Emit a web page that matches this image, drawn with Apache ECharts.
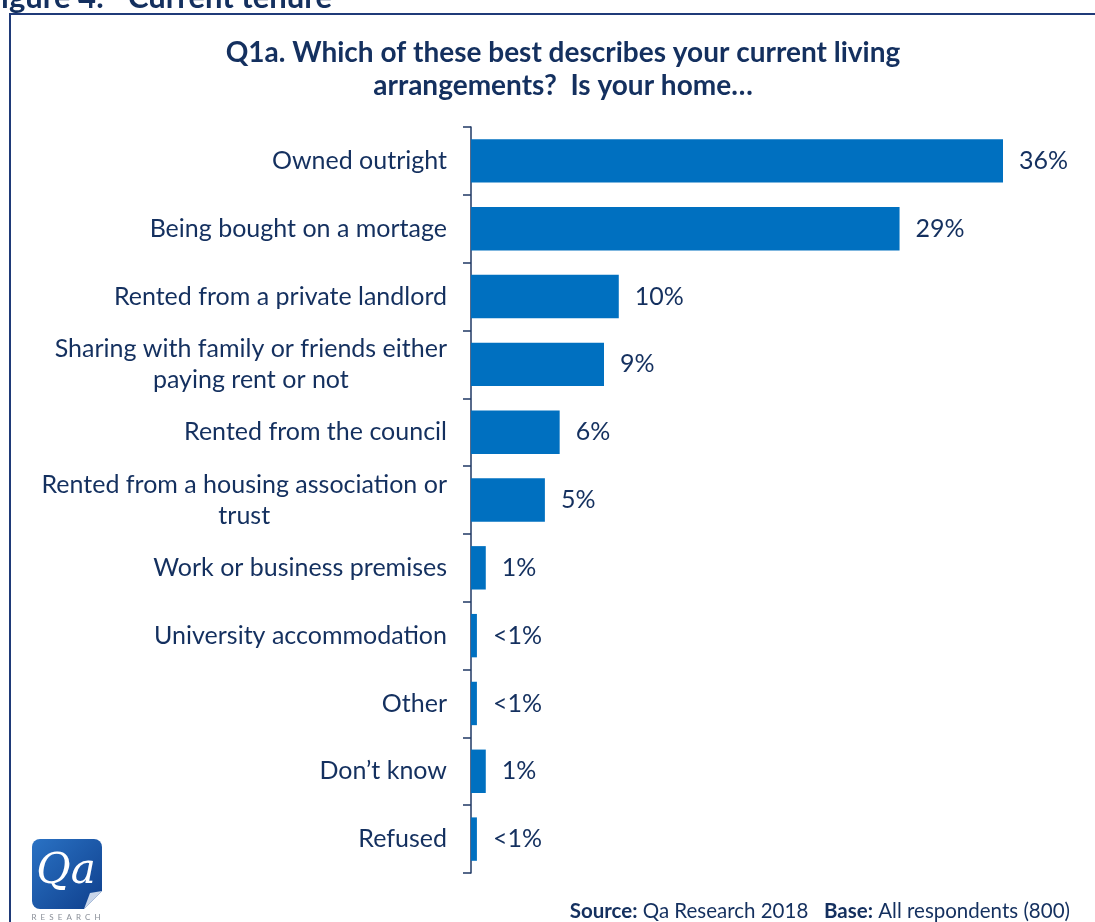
<!DOCTYPE html>
<html>
<head>
<meta charset="utf-8">
<title>Current tenure</title>
<script src="https://cdn.jsdelivr.net/npm/echarts@6/dist/echarts.min.js"></script>
<style>
  html, body { margin: 0; padding: 0; background: #ffffff; }
  #chart { width: 1095px; height: 922px; }
</style>
</head>
<body>
<div id="chart"></div>
<script>
// Survey answers, top to bottom
const categories = [
  'Owned outright',
  'Being bought on a mortage',
  'Rented from a private landlord',
  'Sharing with family or friends either\npaying rent or not',
  'Rented from the council',
  'Rented from a housing association or\ntrust',
  'Work or business premises',
  'University accommodation',
  'Other',
  'Don\u2019t know',
  'Refused'
];
// Share of respondents (%); "<1%" answers drawn as small values
const values = [36, 29, 10, 9, 6, 5, 1, 0.4, 0.4, 1, 0.4];
const valueLabels = ['36%', '29%', '10%', '9%', '6%', '5%', '1%', '<1%', '<1%', '1%', '<1%'];

const NAVY = '#14305f';
const BAR = '#0070c0';
const FONT = 'Lato, "Open Sans", sans-serif';

const chart = echarts.init(document.getElementById('chart'), null, { renderer: 'canvas' });

chart.setOption({
  animation: false,
  backgroundColor: '#ffffff',
  title: {
    text: 'Q1a. Which of these best describes your current living\narrangements?  Is your home\u2026',
    left: 558,
    textAlign: 'center',
    top: 31,
    padding: 5,
    textStyle: {
      fontFamily: FONT,
      fontWeight: 'bold',
      fontSize: 28,
      lineHeight: 33,
      color: NAVY
    }
  },
  grid: { left: 471, right: 92, top: 127, bottom: 49, containLabel: false },
  xAxis: {
    type: 'value',
    min: 0,
    max: 36,
    show: false
  },
  yAxis: {
    type: 'category',
    data: categories,
    inverse: true,
    axisLine: { show: true, lineStyle: { color: '#1f3864', width: 1.5 } },
    axisTick: { show: true, length: 8, lineStyle: { color: '#1f3864', width: 1.5 } },
    axisLabel: {
      margin: 24,
      color: NAVY,
      fontFamily: FONT,
      fontSize: 25,
      lineHeight: 31,
      formatter: function (v) {
        return v.split('\n').map(function (l) { return '{c|' + l + '}'; }).join('\n');
      },
      rich: {
        c: { align: 'center', color: NAVY, fontFamily: FONT, fontSize: 25, lineHeight: 31 }
      }
    },
    splitLine: { show: false }
  },
  series: [{
    type: 'bar',
    data: values,
    barCategoryGap: '36%',
    itemStyle: { color: BAR },
    label: {
      show: true,
      position: 'right',
      distance: 16,
      color: NAVY,
      fontFamily: FONT,
      fontSize: 25,
      formatter: function (p) { return valueLabels[p.dataIndex]; }
    }
  }],
  graphic: [
    // frame around the figure
    {
      type: 'rect',
      shape: { x: 10, y: 14, width: 1100, height: 930 },
      style: { fill: 'none', stroke: '#1f3a78', lineWidth: 2 },
      silent: true
    },
    // figure caption above the frame
    {
      type: 'text',
      x: 104, y: 13,
      style: {
        text: 'Figure 4:',
        align: 'right', verticalAlign: 'bottom',
        fontFamily: FONT, fontWeight: 'bold', fontSize: 31, fill: NAVY
      }
    },
    {
      type: 'text',
      x: 128, y: 13,
      style: {
        text: 'Current tenure',
        align: 'left', verticalAlign: 'bottom',
        fontFamily: FONT, fontWeight: 'bold', fontSize: 31, fill: NAVY
      }
    },
    // Qa Research logo
    {
      type: 'rect',
      shape: { x: 32, y: 839, width: 70, height: 70, r: 8 },
      style: {
        fill: new echarts.graphic.LinearGradient(0, 0, 1, 1, [
          { offset: 0, color: '#2a72c4' },
          { offset: 1, color: '#0f3f8c' }
        ])
      },
      silent: true
    },
    {
      type: 'polygon',
      shape: { points: [[84, 909], [102, 891], [102, 909]] },
      style: { fill: '#ffffff' },
      silent: true
    },
    {
      type: 'polygon',
      shape: { points: [[84, 909], [102, 891], [90, 893]] },
      style: { fill: '#c9d6ea' },
      silent: true
    },
    {
      type: 'text',
      x: 66, y: 872,
      style: {
        text: 'Qa',
        align: 'center', verticalAlign: 'middle',
        fontFamily: '"DejaVu Serif", "Liberation Serif", serif',
        fontStyle: 'italic', fontSize: 42, fill: '#ffffff'
      }
    },
    {
      type: 'text',
      x: 66, y: 917,
      style: {
        text: 'R  E  S  E  A  R  C  H',
        align: 'center', verticalAlign: 'middle',
        fontFamily: FONT, fontSize: 8, fill: '#8a8f98'
      }
    },
    // source note
    {
      type: 'text',
      x: 1070, y: 911,
      style: {
        text: '{b|Source:} Qa Research 2018   {b|Base:} All respondents (800)',
        align: 'right', verticalAlign: 'middle',
        fontFamily: FONT, fontSize: 20.5, fill: NAVY,
        rich: {
          b: { fontFamily: FONT, fontWeight: 'bold', fontSize: 20.5, fill: NAVY }
        }
      }
    }
  ]
});
</script>
</body>
</html>
